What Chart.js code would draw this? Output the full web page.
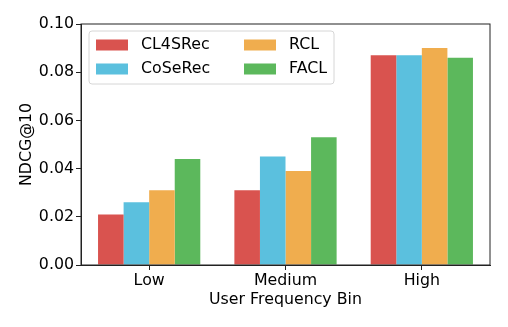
<!DOCTYPE html>
<html>
<head>
<meta charset="utf-8">
<script src="https://cdn.jsdelivr.net/npm/chart.js@4/dist/chart.umd.min.js"></script>
<style>
  html, body { margin: 0; padding: 0; background: #fff; }
  #wrap { width: 508px; height: 327px; }
</style>
</head>
<body>
<div id="wrap"><canvas id="c" width="508" height="327"></canvas></div>
<script>
const categories = ['Low', 'Medium', 'High'];
const seriesNames = ['CL4SRec', 'CoSeRec', 'RCL', 'FACL'];
const cl4srec = [0.021, 0.031, 0.087];
const coserec = [0.026, 0.045, 0.087];
const rcl = [0.031, 0.039, 0.090];
const facl = [0.044, 0.053, 0.086];
const colors = ['#d9534f', '#5bc0de', '#f0ad4e', '#5cb85c'];
const yTicks = [0.00, 0.02, 0.04, 0.06, 0.08, 0.10];

const FONT = 'DejaVu Sans';
const FS = 15.8;

const seriesValues = [cl4srec, coserec, rcl, facl];
const datasets = seriesNames.map((n, i) => ({
  label: n,
  data: seriesValues[i],
  backgroundColor: colors[i],
  borderWidth: 0,
  categoryPercentage: 0.75,
  barPercentage: 1.0
}));

const framePlugin = {
  id: 'frame',
  afterDatasetsDraw(chart) {
    const {ctx, chartArea: a} = chart;
    ctx.save();
    ctx.strokeStyle = '#222';
    ctx.lineWidth = 1;
    ctx.strokeRect(a.left, a.top, a.right - a.left, a.bottom - a.top);
    ctx.restore();
  }
};

const legendPlugin = {
  id: 'boxLegend',
  afterDraw(chart) {
    const {ctx, chartArea: a} = chart;
    const x0 = a.left + 8, y0 = a.top + 7, w = 245, h = 53;
    ctx.save();
    ctx.beginPath();
    const r = 3;
    ctx.moveTo(x0 + r, y0);
    ctx.arcTo(x0 + w, y0, x0 + w, y0 + h, r);
    ctx.arcTo(x0 + w, y0 + h, x0, y0 + h, r);
    ctx.arcTo(x0, y0 + h, x0, y0, r);
    ctx.arcTo(x0, y0, x0 + w, y0, r);
    ctx.closePath();
    ctx.fillStyle = 'rgba(255,255,255,0.8)';
    ctx.fill();
    ctx.strokeStyle = '#d6d6d6';
    ctx.lineWidth = 1;
    ctx.stroke();
    ctx.font = FS + 'px "' + FONT + '"';
    ctx.textBaseline = 'middle';
    ctx.fillStyle = '#000';
    const ds = chart.data.datasets;
    const colX = [x0 + 7, x0 + 155];
    const rowY = [y0 + 14, y0 + 38];
    ds.forEach((d, i) => {
      const col = Math.floor(i / 2), row = i % 2;
      const px = colX[col], py = rowY[row];
      ctx.fillStyle = d.backgroundColor;
      ctx.fillRect(px, py - 5.5, 32, 11);
      ctx.fillStyle = '#000';
      ctx.fillText(d.label, px + 45, py);
    });
    ctx.restore();
  }
};

new Chart(document.getElementById('c'), {
  type: 'bar',
  data: { labels: categories, datasets },
  options: {
    responsive: false,
    animation: false,
    devicePixelRatio: 1,
    layout: { padding: { top: 24, right: 18, left: 0, bottom: 0 } },
    plugins: { legend: { display: false }, tooltip: { enabled: false } },
    scales: {
      x: {
        offset: true,
        grid: { display: true, drawOnChartArea: false, offset: false, tickLength: 5, color: '#222', tickWidth: 1 },
        border: { display: true, color: '#222', width: 1 },
        ticks: { color: '#000', font: { family: FONT, size: FS }, padding: 1, maxRotation: 0 },
        title: { display: true, text: 'User Frequency Bin', color: '#000', font: { family: FONT, size: FS }, padding: { top: 0, bottom: 18 } },
        afterFit(s) { s.height = 62; }
      },
      y: {
        min: 0, max: 0.1,
        afterBuildTicks(s) { s.ticks = yTicks.map(v => ({ value: v })); },
        grid: { display: true, drawOnChartArea: false, tickLength: 5, color: '#222', tickWidth: 1 },
        border: { display: true, color: '#222', width: 1 },
        ticks: { color: '#000', font: { family: FONT, size: FS }, padding: 2, callback: v => Number(v).toFixed(2) },
        title: { display: true, text: 'NDCG@10', color: '#000', font: { family: FONT, size: FS }, padding: { top: 17, bottom: 0 } },
        afterFit(s) { s.width = 81; }
      }
    }
  },
  plugins: [framePlugin, legendPlugin]
});
</script>
</body>
</html>
